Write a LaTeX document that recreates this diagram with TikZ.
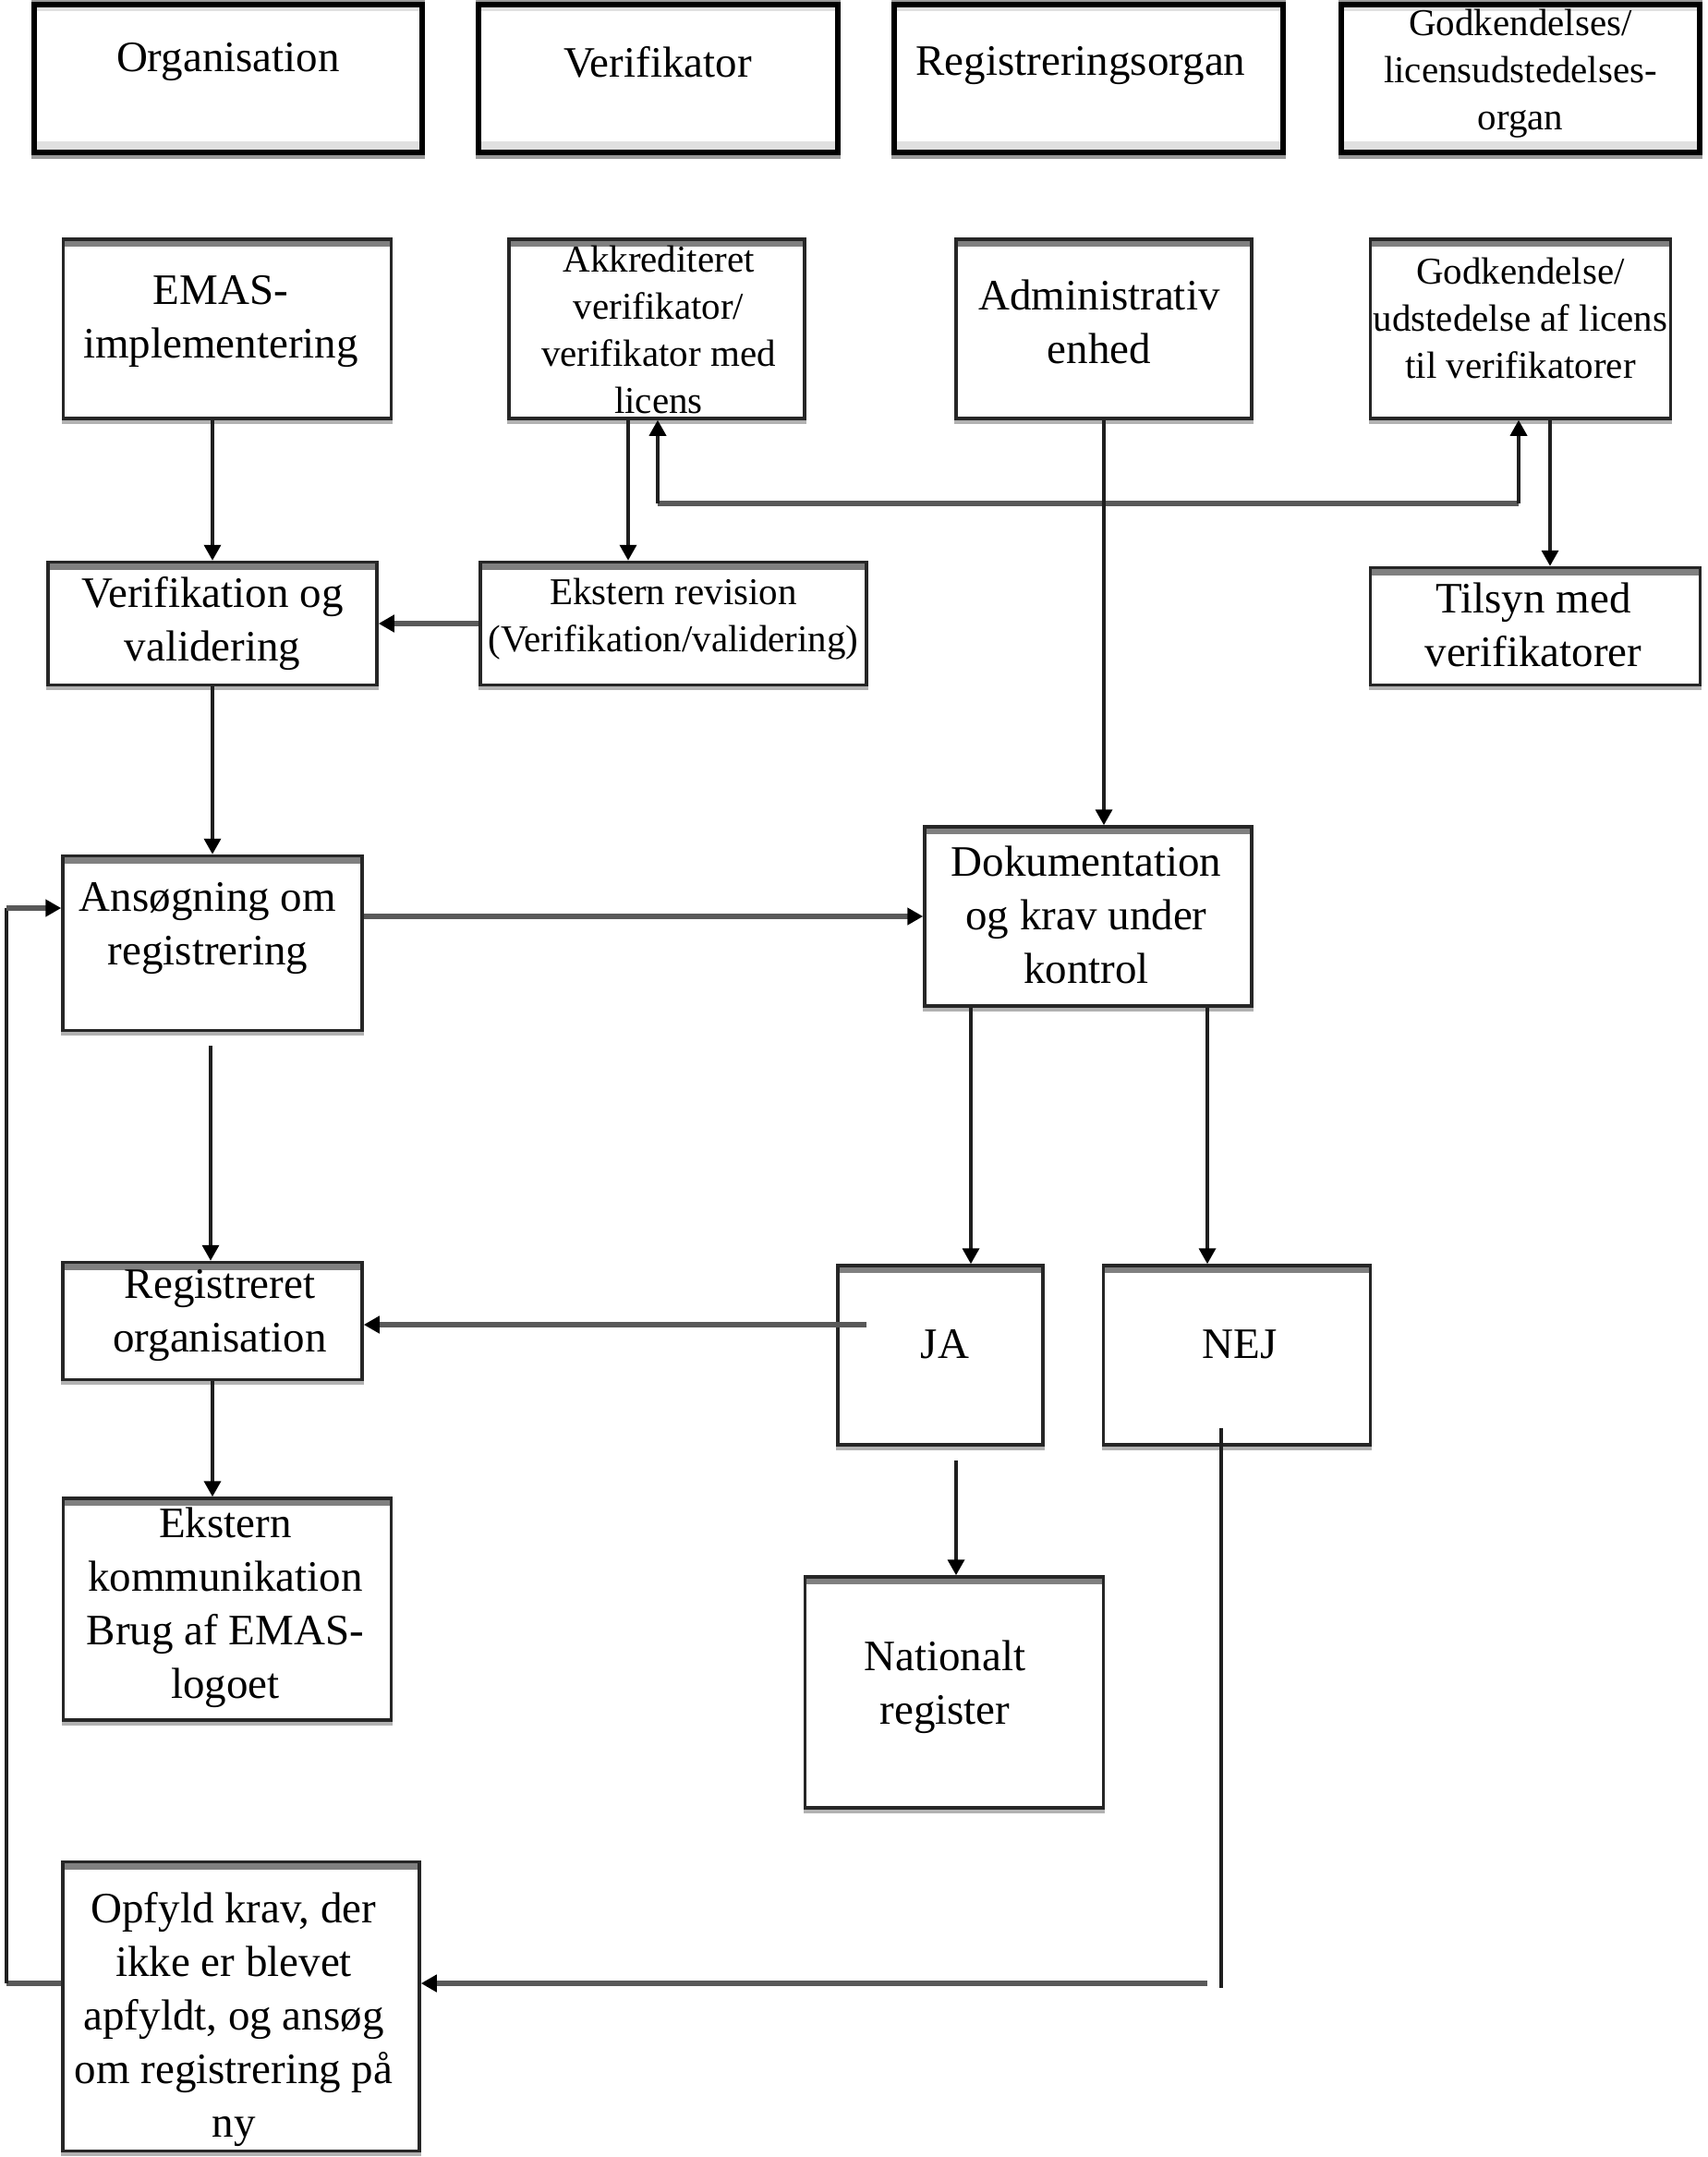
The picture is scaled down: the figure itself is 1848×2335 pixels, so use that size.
\documentclass[tikz,border=0pt]{standalone}
\usepackage{fontspec}
\setmainfont{Liberation Serif}
\usetikzlibrary{arrows.meta}
\begin{document}
\begin{tikzpicture}[x=1pt,y=-1pt,
  box/.style={draw=black!85, line width=3.5pt, fill=white, inner sep=0pt,
    preaction={draw=black!30, fill=black!30, line width=3.5pt, transform canvas={yshift=-4pt}},
    path picture={\fill[black!50] ([yshift=-1pt]path picture bounding box.north west) rectangle ([yshift=-8pt]path picture bounding box.north east);}},
  hdr/.style={draw=black, line width=6pt, fill=white, inner sep=0pt,
    preaction={draw=black!40, line width=6pt, transform canvas={yshift=4pt}},
    preaction={draw=black!40, line width=6pt, transform canvas={yshift=-4pt}},
    path picture={\fill[black!12] ([yshift=-2pt]path picture bounding box.north west) rectangle ([yshift=-7pt]path picture bounding box.north east);
                  \fill[black!12] ([yshift=2pt]path picture bounding box.south west) rectangle ([yshift=12pt]path picture bounding box.south east);}},
  txt/.style={align=center, inner sep=0pt, font=\fontsize{47pt}{58pt}\selectfont},
  txts/.style={align=center, inner sep=0pt, font=\fontsize{41pt}{51pt}\selectfont},
  hl/.style={draw=black!65, line width=6pt},
  vl/.style={draw=black!88, line width=3.5pt},
  arr/.style={-{Triangle[length=17pt 0 0,width=18pt 0 0,color=black]}}
]
\useasboundingbox (0,0) rectangle (1848,2335);

% header row
\node[hdr, minimum width=420pt, minimum height=160pt] (hOrg) at (247,85) {};
\node[txt] at (247,67) {Organisation};
\node[hdr, minimum width=389pt, minimum height=160pt] (hVer) at (712,85) {};
\node[txt] at (712,67) {Verifikator};
\node[hdr, minimum width=421pt, minimum height=160pt] (hReg) at (1178,85) {};
\node[txt] at (1170,71) {Registreringsorgan};
\node[hdr, minimum width=388pt, minimum height=160pt] (hGod) at (1646,85) {};
\node[txts] at (1646,80) {Godkendelses/\\licensudstedelses-\\organ};

% row 2
\node[box, minimum width=355pt, minimum height=194pt] (emas) at (246,356) {};
\node[txt] at (239,348) {EMAS-\\implementering};
\node[box, minimum width=320pt, minimum height=194pt] (akk) at (711,356) {};
\node[txts] at (713,357) {Akkrediteret\\verifikator/\\verifikator med\\licens};
\node[box, minimum width=320pt, minimum height=194pt] (adm) at (1195,356) {};
\node[txt] at (1190,348) {Administrativ\\enhed};
\node[box, minimum width=325pt, minimum height=194pt] (godk) at (1646,356) {};
\node[txts] at (1646,344) {Godkendelse/\\udstedelse af licens\\til verifikatorer};

% row 3
\node[box, minimum width=356pt, minimum height=133pt] (verif) at (230,675) {};
\node[txt] at (230,675) {Verifikation og\\validering};
\node[box, minimum width=418pt, minimum height=133pt] (ekst) at (729,675) {};
\node[txts] at (729,670) {Ekstern revision\\(Verifikation/validering)};
\node[box, minimum width=357pt, minimum height=127pt] (tilsyn) at (1662,678) {};
\node[txt] at (1660,676) {Tilsyn med\\verifikatorer};

% row 4
\node[box, minimum width=324pt, minimum height=189pt] (ans) at (230,1021) {};
\node[txt] at (225,1005) {Ansøgning om\\registrering};
\node[box, minimum width=354pt, minimum height=194pt] (dok) at (1178,992) {};
\node[txt] at (1176,990) {Dokumentation\\og krav under\\kontrol};

% row 5
\node[box, minimum width=324pt, minimum height=127pt] (reg) at (230,1430) {};
\node[txt] at (238,1424) {Registreret\\organisation};
\node[box, minimum width=222pt, minimum height=194pt] (ja) at (1018,1467) {};
\node[txt] at (1023,1455) {JA};
\node[box, minimum width=289pt, minimum height=194pt] (nej) at (1339,1467) {};
\node[txt] at (1342,1455) {NEJ};

% row 6
\node[box, minimum width=355pt, minimum height=240pt] (ekom) at (246,1742) {};
\node[txt] at (244,1740) {Ekstern\\kommunikation\\Brug af EMAS-\\logoet};
\node[box, minimum width=323pt, minimum height=250pt] (nat) at (1033,1832) {};
\node[txt] at (1023,1826) {Nationalt\\register};

% row 7
\node[box, minimum width=386pt, minimum height=313pt] (opf) at (261,2172) {};
\node[txt] at (253,2186) {Opfyld krav, der\\ikke er blevet\\apfyldt, og ansøg\\om registrering på\\ny};

% helper coordinates
\coordinate (xa) at (680,0);
\coordinate (xd) at (1678,0);
\coordinate (xe) at (1051,0);
\coordinate (xf) at (1307,0);
\coordinate (xl) at (7,0);
\coordinate (b1) at (712,545);
\coordinate (b2) at (1644,545);
\coordinate (s1) at (228,1132);
\coordinate (s2) at (938,1434);
\coordinate (s3) at (1035,1581);
\coordinate (s4) at (1322,1546);
\coordinate (s5) at (1322,2152);
\coordinate (s6) at (1307,2147);
\coordinate (s7) at (7,983);

% connectors
\draw[vl,arr] (emas.south -| verif.north) -- (verif.north);
\draw[vl,arr] (akk.south -| xa) -- (ekst.north -| xa);
\draw[hl] (b1) -- (b2);
\draw[vl,arr] (b1) -- (akk.south -| b1);
\draw[vl,arr] (b2) -- (godk.south -| b2);
\draw[vl,arr] (adm.south) -- (adm.south |- dok.north);
\draw[vl,arr] (godk.south -| xd) -- (tilsyn.north -| xd);
\draw[hl,arr] (ekst.west) -- (verif.east);
\draw[vl,arr] (verif.south) -- (verif.south |- ans.north);
\draw[hl,arr] (ans.east |- dok.west) -- (dok.west);
\draw[vl,arr] (s1) -- (s1 |- reg.north);
\draw[vl,arr] (dok.south -| xe) -- (ja.north -| xe);
\draw[vl,arr] (dok.south -| xf) -- (nej.north -| xf);
\draw[hl,arr] (s2) -- (s2 -| reg.east);
\draw[vl,arr] (s3) -- (s3 |- nat.north);
\draw[vl,arr] (reg.south) -- (reg.south |- ekom.north);
\draw[vl] (s4) -- (s5);
\draw[hl,arr] (s6) -- (s6 -| opf.east);
\draw[hl] (opf.west |- s6) -- (xl |- s6);
\draw[vl] (xl |- s6) -- (s7);
\draw[hl,arr] (s7) -- (s7 -| ans.west);
\end{tikzpicture}
\end{document}
